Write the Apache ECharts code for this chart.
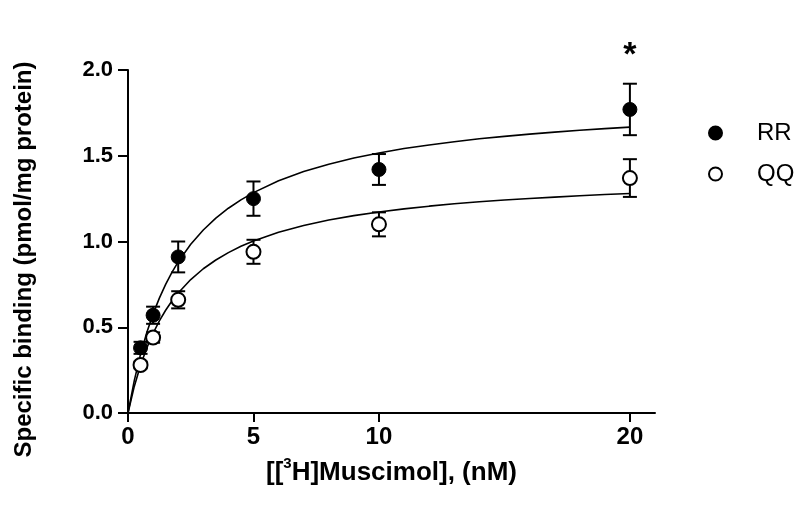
<!DOCTYPE html>
<html>
<head>
<meta charset="utf-8">
<style>
    html, body { margin: 0; padding: 0; background: #ffffff; }
    #chart { width: 800px; height: 517px; }
</style>
<script src="https://cdn.jsdelivr.net/npm/echarts@6/dist/echarts.min.js"></script>
</head>
<body>
<div id="chart"></div>
<script>
// 浓度 (nM)
const concentrations = [0.5, 1, 2, 5, 10, 20];

// 测量均值与误差 (SEM)
const rrMean = [0.38, 0.57, 0.91, 1.25, 1.42, 1.77];
const rrSem = [0.035, 0.05, 0.09, 0.10, 0.09, 0.15];
const qqMean = [0.28, 0.44, 0.66, 0.94, 1.10, 1.37];
const qqSem = [0.02, 0.03, 0.05, 0.07, 0.07, 0.11];

// 拟合曲线
const curveX = [0, 0.25, 0.5, 0.75, 1, 1.25, 1.5, 1.75, 2, 2.5, 3, 3.5, 4, 4.5, 5,
    6, 7, 8, 9, 10, 11, 12, 13, 14, 15, 16, 17, 18, 19, 20];
const rrCurve = [0, 0.189, 0.343, 0.470, 0.578, 0.670, 0.750, 0.820, 0.881, 0.984, 1.067, 1.136, 1.194, 1.243, 1.285,
    1.354, 1.408, 1.451, 1.487, 1.516, 1.542, 1.563, 1.582, 1.599, 1.613, 1.626, 1.638, 1.649, 1.658, 1.667];
const qqCurve = [0, 0.155, 0.279, 0.380, 0.465, 0.537, 0.599, 0.653, 0.700, 0.778, 0.841, 0.892, 0.935, 0.972, 1.003,
    1.054, 1.093, 1.125, 1.151, 1.172, 1.190, 1.206, 1.220, 1.232, 1.242, 1.251, 1.259, 1.267, 1.274, 1.280];

// 坐标轴刻度
const xTicks = [0, 5, 10, 20];

const FONT = 'Liberation Sans, Arial, Helvetica, sans-serif';

const chart = echarts.init(document.getElementById('chart'));

function pairs(xs, ys) {
    return xs.map((x, i) => [x, ys[i]]);
}

function errorData(means, sems) {
    return concentrations.map((x, i) => [x, means[i], sems[i]]);
}

// 误差棒
function renderErrorBar(params, api) {
    const x = api.value(0);
    const m = api.value(1);
    const s = api.value(2);
    const top = api.coord([x, m + s]);
    const bottom = api.coord([x, m - s]);
    const half = 7;
    const style = { stroke: '#000', lineWidth: 2 };
    return {
        type: 'group',
        children: [
            { type: 'line', shape: { x1: top[0], y1: top[1], x2: bottom[0], y2: bottom[1] }, style: style },
            { type: 'line', shape: { x1: top[0] - half, y1: top[1], x2: top[0] + half, y2: top[1] }, style: style },
            { type: 'line', shape: { x1: bottom[0] - half, y1: bottom[1], x2: bottom[0] + half, y2: bottom[1] }, style: style }
        ]
    };
}

// 20 nM 处标注显著性星号
const rrPoints = pairs(concentrations, rrMean).map((p, i) => {
    if (i === concentrations.length - 1) {
        return {
            value: p,
            label: {
                show: true,
                position: 'top',
                distance: 29,
                formatter: '*',
                fontSize: 34,
                fontWeight: 'bold',
                fontFamily: FONT,
                color: '#000'
            }
        };
    }
    return p;
});

const option = {
    backgroundColor: '#ffffff',
    animation: false,
    textStyle: { fontFamily: FONT, color: '#000' },
    grid: {
        left: 128,
        right: 145,
        top: 70,
        bottom: 104
    },
    legend: {
        orient: 'vertical',
        left: 703,
        top: 116,
        itemWidth: 13,
        itemHeight: 13,
        itemGap: 17,
        data: ['RR', 'QQ'],
        textStyle: {
            fontSize: 24,
            color: '#000',
            fontFamily: FONT,
            padding: [0, 0, 0, 30]
        }
    },
    xAxis: {
        type: 'value',
        min: 0,
        max: 21,
        interval: 5,
        name: '{b|[[}{sup|3}{b|H]Muscimol], (nM)}',
        nameLocation: 'middle',
        nameGap: 43,
        nameTextStyle: {
            rich: {
                b: { fontSize: 26, lineHeight: 30, fontWeight: 'bold', fontFamily: FONT, color: '#000', verticalAlign: 'bottom' },
                sup: { fontSize: 15, lineHeight: 16, fontWeight: 'bold', fontFamily: FONT, color: '#000', verticalAlign: 'top' }
            }
        },
        axisLine: { show: true, onZero: false, lineStyle: { color: '#000', width: 2 } },
        axisTick: { show: true, length: 9, customValues: xTicks, lineStyle: { color: '#000', width: 2 } },
        axisLabel: {
            customValues: xTicks,
            fontSize: 24,
            fontWeight: 'bold',
            fontFamily: FONT,
            color: '#000',
            margin: 12
        },
        splitLine: { show: false }
    },
    yAxis: {
        type: 'value',
        min: 0,
        max: 2,
        interval: 0.5,
        name: 'Specific binding (pmol/mg protein)',
        nameLocation: 'middle',
        nameGap: 92,
        nameTextStyle: {
            fontSize: 24,
            fontWeight: 'bold',
            fontFamily: FONT,
            color: '#000',
            padding: [0, 36, 0, 0]
        },
        axisLine: { show: true, onZero: false, lineStyle: { color: '#000', width: 2 } },
        axisTick: { show: true, length: 10, lineStyle: { color: '#000', width: 2 } },
        axisLabel: {
            fontSize: 22,
            fontWeight: 'bold',
            fontFamily: FONT,
            color: '#000',
            margin: 15,
            formatter: v => v.toFixed(1)
        },
        splitLine: { show: false }
    },
    series: [
        {
            name: 'RR-fit',
            type: 'line',
            data: pairs(curveX, rrCurve),
            showSymbol: false,
            lineStyle: { color: '#000', width: 1.6 },
            z: 1,
            silent: true
        },
        {
            name: 'QQ-fit',
            type: 'line',
            data: pairs(curveX, qqCurve),
            showSymbol: false,
            lineStyle: { color: '#000', width: 1.6 },
            z: 1,
            silent: true
        },
        {
            name: 'RR-err',
            type: 'custom',
            data: errorData(rrMean, rrSem),
            renderItem: renderErrorBar,
            z: 2,
            silent: true
        },
        {
            name: 'QQ-err',
            type: 'custom',
            data: errorData(qqMean, qqSem),
            renderItem: renderErrorBar,
            z: 2,
            silent: true
        },
        {
            name: 'RR',
            type: 'scatter',
            data: rrPoints,
            symbol: 'circle',
            symbolSize: 14,
            itemStyle: { color: '#000', borderColor: '#000', borderWidth: 1, opacity: 1 },
            z: 3
        },
        {
            name: 'QQ',
            type: 'scatter',
            data: pairs(concentrations, qqMean),
            symbol: 'circle',
            symbolSize: 14,
            itemStyle: { color: '#fff', borderColor: '#000', borderWidth: 2, opacity: 1 },
            z: 3
        }
    ]
};

chart.setOption(option);

window.addEventListener('resize', () => {
    chart.resize();
});
</script>
</body>
</html>
